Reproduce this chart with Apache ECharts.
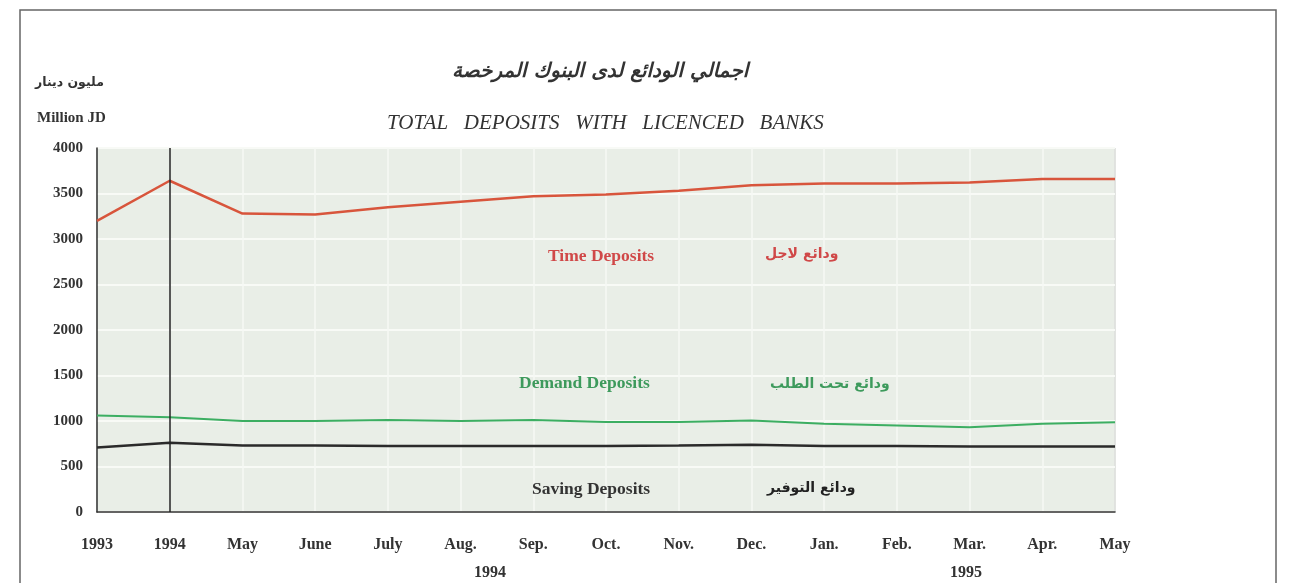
<!DOCTYPE html>
<html>
<head>
<meta charset="utf-8">
<script src="https://cdn.jsdelivr.net/npm/echarts@6/dist/echarts.min.js"></script>
<style>
html,body{margin:0;padding:0;background:#fff;}
#chart{width:1289px;height:583px;}
</style>
</head>
<body>
<div id="chart"></div>
<script>
var categories = ['1993','1994','May','June','July','Aug.','Sep.','Oct.','Nov.','Dec.','Jan.','Feb.','Mar.','Apr.','May '];
var timeDeposits = [3200,3640,3280,3270,3350,3410,3470,3490,3530,3590,3610,3610,3620,3660,3660];
var demandDeposits = [1060,1040,1000,1000,1010,1000,1010,990,990,1005,970,950,930,970,985];
var savingDeposits = [710,760,730,730,725,725,725,725,730,740,725,725,720,720,720];
var yTicks = [0,500,1000,1500,2000,2500,3000,3500,4000];

var serif = '"Liberation Serif", "DejaVu Serif", serif';
var arab = '"DejaVu Sans", sans-serif';

function txt(left, top, text, font, fill) {
  return {type: 'text', left: left, top: top, z: 100, style: {text: text, font: font, fill: fill}};
}

var chart = echarts.init(document.getElementById('chart'));
chart.setOption({
  animation: false,
  backgroundColor: '#ffffff',
  grid: {left: 97, right: 174, top: 148, bottom: 71, show: true, backgroundColor: '#e9eee7', borderColor: '#555', borderWidth: 1},
  xAxis: {
    type: 'category', data: categories, boundaryGap: false,
    axisLine: {show: true, lineStyle: {color: '#333', width: 1.5}},
    axisTick: {show: false},
    axisLabel: {color: '#333', fontFamily: serif, fontWeight: 'bold', fontSize: 16, margin: 25,
      formatter: function (v) { return v.trim(); }},
    splitLine: {show: true, lineStyle: {color: '#f6f8f4', width: 1.5}}
  },
  yAxis: {
    type: 'value', min: 0, max: 4000, interval: 500,
    axisLine: {show: true, lineStyle: {color: '#333', width: 1.5}},
    axisTick: {show: false},
    axisLabel: {color: '#333', fontFamily: serif, fontWeight: 'bold', fontSize: 15, margin: 14,
      formatter: function (v) { return yTicks.indexOf(v) >= 0 ? String(v) : ''; }},
    splitLine: {show: true, lineStyle: {color: '#f8faf6', width: 2}}
  },
  series: [
    {name: 'Time Deposits', type: 'line', data: timeDeposits, symbol: 'none',
     lineStyle: {color: '#d8553c', width: 2.5},
     markLine: {silent: true, symbol: 'none', label: {show: false},
       lineStyle: {color: '#222', width: 1.5, type: 'solid'},
       data: [{xAxis: '1994'}]}},
    {name: 'Demand Deposits', type: 'line', data: demandDeposits, symbol: 'none',
     lineStyle: {color: '#3cae62', width: 2}},
    {name: 'Saving Deposits', type: 'line', data: savingDeposits, symbol: 'none',
     lineStyle: {color: '#2a2a2a', width: 2.5}}
  ],
  graphic: [
    {type: 'rect', z: 100, shape: {x: 20, y: 10, width: 1256, height: 600}, style: {fill: 'none', stroke: '#666', lineWidth: 1.5}, silent: true},
    txt(452, 62, 'اجمالي الودائع لدى البنوك المرخصة', 'italic bold 20px ' + arab, '#333'),
    txt(387, 113, 'TOTAL   DEPOSITS   WITH   LICENCED   BANKS', 'italic 21px ' + serif, '#333'),
    txt(35, 76, 'مليون دينار', 'bold 12.5px ' + arab, '#333'),
    txt(37, 111, 'Million JD', 'bold 15px ' + serif, '#333'),
    txt(548, 247, 'Time Deposits', 'bold 17.5px ' + serif, '#d04848'),
    txt(765, 247, 'ودائع لاجل', 'bold 14px ' + arab, '#d04848'),
    txt(519, 374, 'Demand Deposits', 'bold 17.5px ' + serif, '#3d9a5c'),
    txt(770, 377, 'ودائع تحت الطلب', 'bold 14px ' + arab, '#3d9a5c'),
    txt(532, 480, 'Saving Deposits', 'bold 17.5px ' + serif, '#333'),
    txt(767, 481, 'ودائع التوفير', 'bold 14px ' + arab, '#222'),
    txt(474, 565, '1994', 'bold 16px ' + serif, '#333'),
    txt(950, 565, '1995', 'bold 16px ' + serif, '#333')
  ]
});
</script>
</body>
</html>
